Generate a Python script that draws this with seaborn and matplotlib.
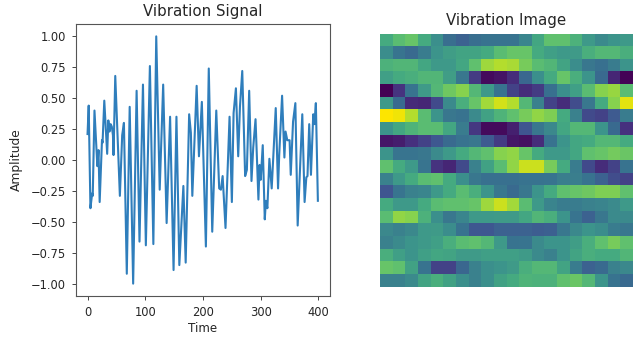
import matplotlib
matplotlib.use("Agg")
import matplotlib.pyplot as plt
from matplotlib.colors import LinearSegmentedColormap
import seaborn as sns
import pandas as pd

# turning points of the signal
time = [0, 2, 5, 8, 9, 12, 17, 19, 21, 25, 26, 29, 34, 36, 38, 40, 42, 44, 45, 48, 56, 60, 63, 68, 73, 79, 85, 90, 96, 101,
        108, 114, 119, 125, 131, 137, 143, 149, 154, 159, 166, 170, 176, 179, 181.5, 189, 193, 198, 205, 210, 216, 223,
        228, 231, 234, 239, 246, 250, 253, 257, 261, 264, 268, 273, 276, 280, 284, 287, 291, 296, 298, 300, 303.5, 307,
        309, 311.5, 315, 319, 326, 330, 332, 337, 341, 343, 346, 350, 352, 356, 360, 364, 372, 376, 379, 381, 384, 387,
        391, 393, 395.5, 399]
amplitude = [0.21, 0.44, -0.39, -0.27, -0.29, 0.40, -0.05, 0.08, -0.34, 0.16, 0.14, 0.48, 0.05, 0.32, 0.23, 0.29, 0.27,
             0.20, 0.04, 0.68, -0.29, 0.20, 0.30, -0.92, 0.43, -1.00, 0.56, -0.66, 0.61, -0.69,
             0.76, -0.68, 1.00, -0.24, 0.61, -0.51, 0.35, -0.89, 0.35, -0.85, -0.21, -0.83, 0.37, 0.22, -0.29, 0.60, 0.03,
             0.47, -0.70, 0.74, -0.58, 0.40,
             -0.23, -0.24, -0.13, -0.55, 0.35, -0.34, 0.38, 0.58, 0.03, 0.43, 0.72, -0.13, -0.08, 0.56, -0.17, 0.10, 0.33,
             -0.32, -0.04, -0.16, 0.12, -0.48,
             -0.33, -0.39, 0.01, -0.23, 0.42, -0.23, 0.04, 0.52, 0.02, 0.23, 0.16, 0.16, -0.12, 0.31, 0.46, -0.53, 0.37,
             -0.34, -0.14, -0.13, 0.29, -0.12,
             0.37, 0.29, 0.46, -0.33]

image = [
    [.60, .68, .72, .60, .48, .34, .30, .34, .36, .36, .36, .44, .58, .70, .70, .63, .52, .46, .50, .52],
    [.47, .37, .33, .40, .50, .54, .57, .57, .60, .68, .72, .72, .60, .55, .52, .53, .62, .66, .66, .62],
    [.63, .65, .65, .58, .52, .52, .58, .70, .84, .88, .86, .76, .68, .65, .57, .47, .38, .35, .40, .50],
    [.55, .60, .62, .65, .65, .54, .38, .18, .03, .06, .14, .32, .48, .60, .72, .62, .50, .33, .12, .01],
    [.00, .16, .37, .53, .66, .74, .80, .66, .52, .36, .20, .14, .18, .35, .48, .55, .68, .80, .83, .68],
    [.52, .33, .13, .12, .22, .46, .62, .72, .85, .93, .88, .66, .42, .20, .14, .23, .38, .60, .80, .96],
    [1.0, .98, .88, .68, .50, .38, .36, .46, .56, .64, .70, .76, .82, .78, .60, .42, .22, .20, .27, .40],
    [.50, .58, .64, .68, .68, .58, .40, .17, .03, .03, .10, .25, .38, .45, .58, .66, .66, .50, .33, .15],
    [.07, .09, .15, .20, .26, .33, .36, .38, .27, .18, .07, .05, .14, .36, .50, .58, .60, .66, .66, .60],
    [.50, .37, .37, .38, .46, .52, .60, .66, .70, .80, .82, .72, .60, .52, .52, .58, .70, .72, .75, .73],
    [.70, .60, .52, .37, .16, .12, .22, .42, .56, .68, .82, .92, .92, .76, .60, .40, .22, .14, .20, .36],
    [.42, .52, .60, .68, .70, .60, .48, .38, .35, .35, .35, .36, .36, .37, .41, .41, .36, .30, .23, .20],
    [.25, .37, .42, .44, .52, .60, .68, .62, .50, .38, .33, .38, .50, .60, .70, .72, .74, .78, .78, .70],
    [.60, .52, .52, .60, .68, .70, .70, .72, .84, .92, .85, .68, .52, .43, .40, .40, .42, .43, .46, .52],
    [.68, .82, .80, .63, .48, .38, .44, .52, .52, .53, .53, .58, .65, .62, .50, .37, .30, .38, .46, .46],
    [.45, .42, .45, .52, .53, .47, .36, .26, .26, .30, .30, .30, .28, .29, .38, .45, .50, .47, .40, .38],
    [.42, .46, .50, .52, .55, .62, .68, .70, .66, .52, .36, .37, .46, .50, .50, .54, .62, .70, .76, .70],
    [.62, .55, .50, .55, .58, .57, .53, .53, .55, .55, .55, .53, .46, .42, .50, .57, .62, .60, .60, .65],
    [.72, .70, .56, .36, .20, .20, .32, .42, .48, .50, .53, .62, .66, .66, .57, .40, .30, .33, .42, .45],
    [.42, .42, .46, .57, .62, .56, .48, .42, .48, .56, .60, .64, .63, .63, .70, .73, .66, .50, .36, .33],
]

# viridis as it looks in the reference, a bit washed out in the middle
cmap_stops = [(0, "#440154"), (.15, "#46307e"), (.25, "#3f5590"), (.35, "#38708f"), (.5, "#3c948b"),
              (.6, "#45aa80"), (.7, "#5fc06f"), (.8, "#86d24e"), (.9, "#bddf26"), (1, "#fde500")]
soft_viridis = LinearSegmentedColormap.from_list("soft_viridis", cmap_stops)

W, H = 641, 347
plt.rcParams["text.color"] = "#262626"
plt.rcParams["axes.labelcolor"] = "#262626"
plt.rcParams["xtick.labelcolor"] = "#262626"
plt.rcParams["ytick.labelcolor"] = "#262626"

fig = plt.figure(figsize=(W / 100, H / 100), dpi=100)

ax1 = fig.add_axes([76 / W, 1 - 296 / H, 254 / W, 272 / H])
df = pd.DataFrame({"Time": time, "Amplitude": amplitude})
sns.lineplot(data=df, x="Time", y="Amplitude", ax=ax1, color="#2f7ebc", linewidth=1.5, estimator=None, sort=False)
ax1.set_xlim(-20, 420)
ax1.set_ylim(-1.1, 1.1)
ax1.set_xticks([0, 100, 200, 300, 400])
ax1.set_yticks([-1, -.75, -.5, -.25, 0, .25, .5, .75, 1])
ax1.set_yticklabels(["\u22121.00", "\u22120.75", "\u22120.50", "\u22120.25", "0.00", "0.25", "0.50", "0.75", "1.00"])
ax1.tick_params(labelsize=8.3, length=3.2, width=0.7, pad=4, color="#444444")
ax1.set_xlabel("Time", fontsize=8.6, labelpad=2)
ax1.set_ylabel("Amplitude", fontsize=8.8, labelpad=5.5)
ax1.set_title("Vibration Signal", fontsize=10.8, pad=6)
for s in ax1.spines.values():
    s.set_linewidth(0.8)
    s.set_color("#555555")

ax2 = fig.add_axes([380 / W, 1 - 287 / H, 253 / W, 254 / H])
sns.heatmap(pd.DataFrame(image), ax=ax2, cmap=soft_viridis, vmin=0, vmax=1, cbar=False,
            xticklabels=False, yticklabels=False, square=True)
ax2.set_title("Vibration Image", fontsize=10.8, pad=6)

fig.savefig("out.png", dpi=100)
